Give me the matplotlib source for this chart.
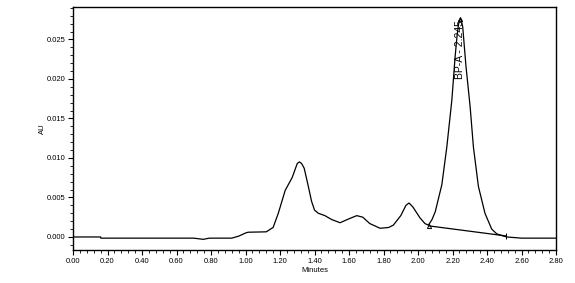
import matplotlib
matplotlib.use("Agg")
import matplotlib.pyplot as plt
import numpy as np
from matplotlib.ticker import MultipleLocator, FormatStrFormatter

plt.rcParams['font.family'] = ['Liberation Sans', 'DejaVu Sans']

# chromatogram trace (minutes, AU)
minutes = np.array([0.00, 0.16, 0.161, 0.70, 0.755, 0.79, 0.92, 0.96, 1.00, 1.015,
                    1.12, 1.16, 1.19, 1.23, 1.27, 1.30, 1.312, 1.325, 1.34, 1.36,
                    1.383, 1.40, 1.422, 1.46, 1.50, 1.548, 1.60, 1.645, 1.68, 1.72,
                    1.78, 1.83, 1.857, 1.90, 1.93, 1.948, 1.97, 2.012, 2.04, 2.06,
                    2.081, 2.10, 2.12, 2.138, 2.167, 2.196, 2.215, 2.226, 2.234, 2.240,
                    2.245, 2.251, 2.259, 2.278, 2.302, 2.321, 2.35, 2.388, 2.427, 2.456,
                    2.475, 2.514, 2.60, 2.80])
au = np.array([0.0, 0.0, -0.00015, -0.00015, -0.0003, -0.00015, -0.00015, 0.0001, 0.0005, 0.0006,
               0.00065, 0.0012, 0.0030, 0.0059, 0.0075, 0.0093, 0.0095, 0.0093, 0.0087, 0.0068,
               0.0045, 0.0034, 0.0030, 0.0027, 0.0022, 0.0018, 0.0023, 0.0027, 0.0025, 0.0017,
               0.0011, 0.0012, 0.0015, 0.0027, 0.0040, 0.0043, 0.0038, 0.0024, 0.0017, 0.0015,
               0.0022, 0.0032, 0.0050, 0.0066, 0.0114, 0.0173, 0.0228, 0.0254, 0.0268, 0.0274,
               0.0276, 0.0274, 0.0266, 0.0216, 0.0165, 0.0114, 0.0064, 0.0030, 0.0010, 0.0004,
               0.00025, 0.0, -0.00015, -0.00015])

# integration baseline of the main peak
base_t = [2.064, 2.51]
base_au = [0.0014, 0.00013]
peak_name = "BP-A"
peak_rt = 2.245
peak_au = 0.0276

fig = plt.figure(figsize=(5.75, 2.83), dpi=100)
ax = fig.add_axes([0.127, 0.1166, 0.840, 0.8586])

ax.plot(minutes, au, color='black', linewidth=0.9)
ax.plot(base_t, base_au, color='black', linewidth=0.9)
ax.plot(base_t[0], base_au[0], marker='^', ms=3, mfc='none', mec='black', mew=0.7)
ax.plot(base_t[1], base_au[1], marker='|', ms=4, color='black', mew=0.7)
ax.plot(peak_rt, peak_au, marker='^', ms=3, mfc='none', mec='black', mew=0.7)

ax.text(peak_rt, peak_au - 0.0002, f"{peak_name} - {peak_rt:.3f}", rotation=90,
        ha='center', va='top', fontsize=7.5)

ax.set_xlim(0, 2.8)
ax.set_ylim(-0.00165, 0.0291)
ax.xaxis.set_major_locator(MultipleLocator(0.2))
ax.xaxis.set_minor_locator(MultipleLocator(0.04))
ax.yaxis.set_major_locator(MultipleLocator(0.005))
ax.yaxis.set_minor_locator(MultipleLocator(0.001))
ax.xaxis.set_major_formatter(FormatStrFormatter('%.2f'))
ax.yaxis.set_major_formatter(FormatStrFormatter('%.3f'))
ax.tick_params(which='major', direction='out', length=3.5, width=0.8, labelsize=5.5, pad=2)
ax.tick_params(which='minor', direction='out', length=2, width=0.6)
for s in ax.spines.values():
    s.set_linewidth(1.0)

ax.set_xlabel("Minutes", fontsize=5.5, labelpad=2)
ax.set_ylabel("AU", fontsize=5.5, labelpad=0.5)

fig.savefig("out.png", dpi=100)
